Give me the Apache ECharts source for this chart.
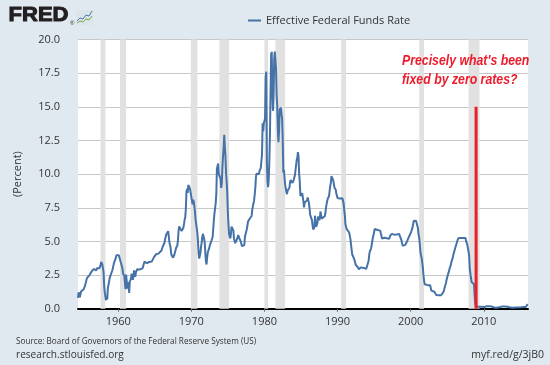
<!DOCTYPE html>
<html><head><meta charset="utf-8">
<script src="https://cdn.jsdelivr.net/npm/echarts@6/dist/echarts.min.js"></script>
<style>html,body{margin:0;padding:0;background:#e1e9f0;}#c{width:550px;height:365px;}</style>
</head><body><div id="c"></div>
<script>
// Monthly effective federal funds rate, starting July 1954
const startYear = 1954, startMonth = 7;
const rates = [
  0.80,1.22,1.06,0.85,0.83,1.28,
  1.39,1.29,1.35,1.43,1.43,1.64,1.68,1.96,2.18,2.24,2.35,2.48,
  2.45,2.50,2.50,2.62,2.75,2.71,2.75,2.73,2.95,2.96,2.88,2.94,
  2.84,3.00,2.96,3.00,3.00,3.00,2.99,3.24,3.47,3.50,3.28,2.98,
  2.72,1.67,1.20,1.26,0.63,0.93,0.68,1.53,1.76,1.80,2.27,2.42,
  2.48,2.43,2.80,2.96,2.90,3.39,3.47,3.50,3.76,3.98,4.00,3.99,
  3.99,3.97,3.84,3.92,3.85,3.32,3.23,2.98,2.60,2.47,2.44,1.98,
  1.45,2.54,2.02,1.49,1.98,1.73,1.17,2.00,1.88,2.26,2.61,2.33,
  2.15,2.37,2.85,2.78,2.36,2.68,2.71,2.93,2.90,2.90,2.94,2.93,
  2.92,3.00,2.98,2.90,3.00,2.99,3.02,3.49,3.48,3.50,3.48,3.38,
  3.48,3.48,3.43,3.47,3.50,3.50,3.42,3.50,3.45,3.36,3.52,3.85,
  3.90,3.98,4.04,4.09,4.10,4.04,4.09,4.12,4.01,4.08,4.10,4.32,
  4.42,4.60,4.65,4.67,4.90,5.17,5.30,5.53,5.40,5.53,5.76,5.40,
  4.94,5.00,4.53,4.05,3.94,3.98,3.79,3.90,3.99,3.88,4.13,4.51,
  4.61,4.71,5.05,5.76,6.11,6.07,6.02,6.03,5.78,5.91,5.82,6.02,
  6.30,6.61,6.79,7.41,8.67,8.90,8.61,9.19,9.15,9.00,8.85,8.97,
  8.98,8.98,7.76,8.10,7.95,7.61,7.21,6.61,6.29,6.20,5.60,4.90,
  4.14,3.72,3.71,4.16,4.63,4.91,5.31,5.56,5.55,5.20,4.91,4.14,
  3.50,3.29,3.83,4.17,4.27,4.46,4.55,4.80,4.87,5.04,5.06,5.33,
  5.94,6.58,7.09,7.12,7.84,8.49,10.40,10.50,10.78,10.01,10.03,9.95,
  9.65,8.97,9.35,10.51,11.31,11.93,12.92,12.01,11.34,10.06,9.45,8.53,
  7.13,6.24,5.54,5.49,5.22,5.55,6.10,6.14,6.24,5.82,5.22,5.20,
  4.87,4.77,4.84,4.82,5.29,5.48,5.31,5.29,5.25,5.02,4.95,4.65,
  4.61,4.68,4.69,4.73,5.35,5.39,5.42,5.90,6.14,6.47,6.51,6.56,
  6.70,6.78,6.79,6.89,7.36,7.60,7.81,8.04,8.45,8.96,9.76,10.03,
  10.07,10.06,10.09,10.01,10.24,10.29,10.47,10.94,11.43,13.77,13.18,13.78,
  13.82,14.13,17.19,17.61,10.98,9.47,9.03,9.61,10.87,12.81,15.85,18.90,
  19.08,15.93,14.70,15.72,18.52,19.10,19.04,17.82,15.87,15.08,13.31,12.37,
  13.22,14.78,14.68,14.94,14.45,14.15,12.59,10.12,10.31,9.71,9.20,8.95,
  8.68,8.51,8.77,8.80,8.63,8.98,9.37,9.56,9.45,9.48,9.34,9.47,
  9.56,9.59,9.91,10.29,10.32,11.06,11.23,11.64,11.30,9.99,9.43,8.38,
  8.35,8.50,8.58,8.27,7.97,7.53,7.88,7.90,7.92,7.99,8.05,8.27,
  8.14,7.86,7.48,6.99,6.85,6.92,6.56,6.17,5.89,5.85,6.04,6.91,
  6.43,6.10,6.13,6.37,6.85,6.73,6.58,6.73,7.22,7.29,6.69,6.77,
  6.83,6.58,6.58,6.87,7.09,7.51,7.75,8.01,8.19,8.30,8.35,8.76,
  9.12,9.36,9.85,9.84,9.81,9.53,9.24,8.99,9.02,8.84,8.55,8.45,
  8.23,8.24,8.28,8.26,8.18,8.29,8.15,8.13,8.20,8.11,7.81,7.31,
  6.91,6.25,6.12,5.91,5.78,5.90,5.82,5.66,5.45,5.21,4.81,4.43,
  4.03,4.06,3.98,3.73,3.82,3.76,3.25,3.30,3.22,3.10,3.09,2.92,
  3.02,3.03,3.07,2.96,3.00,3.04,3.06,3.03,3.09,2.99,3.02,2.96,
  3.05,3.25,3.34,3.56,4.01,4.25,4.26,4.47,4.73,4.76,5.29,5.45,
  5.53,5.92,5.98,6.05,6.01,6.00,5.85,5.74,5.80,5.76,5.80,5.60,
  5.56,5.22,5.31,5.22,5.24,5.27,5.40,5.22,5.30,5.24,5.31,5.29,
  5.25,5.19,5.39,5.51,5.50,5.56,5.52,5.54,5.54,5.50,5.52,5.50,
  5.56,5.51,5.49,5.45,5.49,5.56,5.54,5.55,5.51,5.07,4.83,4.68,
  4.63,4.76,4.81,4.74,4.74,4.76,4.99,5.07,5.22,5.20,5.42,5.30,
  5.45,5.73,5.85,6.02,6.27,6.53,6.54,6.50,6.52,6.51,6.51,6.40,
  5.98,5.49,5.31,4.80,4.21,3.97,3.77,3.65,3.07,2.49,2.09,1.82,
  1.73,1.74,1.73,1.75,1.75,1.75,1.73,1.74,1.75,1.75,1.34,1.24,
  1.24,1.26,1.25,1.26,1.26,1.22,1.01,1.03,1.01,1.01,1.00,0.98,
  1.00,1.01,1.00,1.00,1.00,1.03,1.26,1.43,1.61,1.76,1.93,2.16,
  2.28,2.50,2.63,2.79,3.00,3.04,3.26,3.50,3.62,3.78,4.00,4.16,
  4.29,4.49,4.59,4.79,4.94,4.99,5.24,5.25,5.25,5.25,5.25,5.24,
  5.25,5.26,5.26,5.25,5.25,5.25,5.26,5.02,4.94,4.76,4.49,4.24,
  3.94,2.98,2.61,2.28,1.98,2.00,2.01,2.00,1.81,0.97,0.39,0.16,
  0.15,0.22,0.18,0.15,0.18,0.21,0.16,0.16,0.15,0.12,0.12,0.12,
  0.11,0.13,0.16,0.20,0.20,0.18,0.18,0.19,0.19,0.19,0.19,0.18,
  0.17,0.16,0.14,0.10,0.09,0.09,0.07,0.10,0.08,0.07,0.08,0.07,
  0.08,0.10,0.13,0.14,0.16,0.16,0.16,0.13,0.14,0.16,0.16,0.16,
  0.14,0.15,0.14,0.15,0.11,0.09,0.09,0.08,0.08,0.09,0.08,0.09,
  0.07,0.07,0.08,0.09,0.09,0.10,0.09,0.09,0.09,0.09,0.09,0.12,
  0.11,0.11,0.11,0.12,0.12,0.13,0.13,0.14,0.14,0.12,0.12,0.24,
  0.34
];
// NBER recessions (decimal years: start, end)
const recessions = [
  [1957.583,1958.25],[1960.25,1961.083],[1969.917,1970.833],[1973.833,1975.167],
  [1980.0,1980.5],[1981.5,1982.833],[1990.5,1991.167],[2001.167,2001.833],[2007.917,2009.417]
];
const xTickYears = [1960,1970,1980,1990,2000,2010];
const redMarker = [[2008.95,0],[2008.95,15]];
const seriesName = 'Effective Federal Funds Rate';
const noteLines = ["Precisely what's been", "fixed by zero rates?"];

const lineData = rates.map((v,i)=>[startYear + (startMonth-1+i)/12, v]);
const font = "'Open Sans', sans-serif";

const chart = echarts.init(document.getElementById('c'), null, {renderer:'canvas'});
chart.setOption({
  animation:false,
  backgroundColor:'#e1e9f0',
  grid:{left:78,right:22,top:39.5,bottom:56.3,show:true,backgroundColor:'#ffffff',borderWidth:0},
  legend:{data:[seriesName],left:243,top:10,icon:'rect',itemWidth:13,itemHeight:2,
    textStyle:{fontFamily:font,fontSize:11,color:'#333'}},
  xAxis:{type:'value',min:1954.5,max:2016.05,
    axisLine:{show:true,lineStyle:{color:'#000',width:2}},
    axisTick:{show:true,customValues:xTickYears,length:3,lineStyle:{color:'#666'}},
    axisLabel:{customValues:xTickYears,formatter:v=>String(v),margin:8,fontFamily:font,fontSize:11,color:'#333'},
    splitLine:{show:false}},
  yAxis:{type:'value',min:0,max:20,interval:2.5,
    name:'(Percent)',nameLocation:'middle',nameGap:55,nameRotate:90,
    nameTextStyle:{fontFamily:font,fontSize:11,color:'#333'},
    axisLine:{show:false},axisTick:{show:false},
    axisLabel:{formatter:v=>v.toFixed(1),margin:18,fontFamily:font,fontSize:11,color:'#333'},
    splitLine:{lineStyle:{color:'#c8c8c8',width:1}}},
  series:[
    {type:'line',name:'recessions',data:[],z:1,silent:true,
      markArea:{silent:true,itemStyle:{color:'#e1e1e1'},
        data:recessions.map(r=>[{xAxis:r[0]},{xAxis:r[1]}])}},
    {type:'line',name:seriesName,data:lineData,showSymbol:false,z:3,
      lineStyle:{color:'#4572a7',width:2},itemStyle:{color:'#4572a7'}},
    {type:'line',name:'marker',data:redMarker,showSymbol:false,z:4,
      lineStyle:{color:'#e8202a',width:3}}
  ],
  graphic:[
    {type:'text',left:8,top:5,z:100,scaleX:1.1,style:{text:'FRED',font:"bold 20px 'Liberation Sans', Arial, sans-serif",fill:'#231f20',stroke:'#231f20',lineWidth:1}},
    {type:'text',left:70,top:20,z:100,style:{text:'®',font:"6px 'Liberation Sans', sans-serif",fill:'#231f20'}},
    {type:'rect',z:100,shape:{x:76,y:10,width:17,height:15},style:{fill:'#dbe5ea'}},
    {type:'polyline',z:101,shape:{points:[[77,21],[80,18],[83,19],[86,15],[89,16],[92,11]]},style:{stroke:'#4a7ab0',lineWidth:1,fill:null}},
    {type:'polyline',z:101,shape:{points:[[77,23],[80,21],[83,22],[86,19],[89,20],[92,16]]},style:{stroke:'#7aa84a',lineWidth:1,fill:null}},
    {type:'text',x:402,y:52,z:100,scaleX:0.82,style:{text:noteLines.join('\n'),lineHeight:18.5,
      font:"italic bold 15px 'Liberation Sans', sans-serif",fill:'#ec1c2c'}},
    {type:'text',left:16,top:338,z:100,style:{text:'Source: Board of Governors of the Federal Reserve System (US)',font:"8.2px 'Open Sans', sans-serif",fill:'#333'}},
    {type:'text',left:16,top:350,z:100,style:{text:'research.stlouisfed.org',font:"10.1px 'Open Sans', sans-serif",fill:'#333'}},
    {type:'text',right:6,top:350,z:100,style:{text:'myf.red/g/3jB0',font:"10.5px 'Open Sans', sans-serif",fill:'#333'}}
  ]
});
</script></body></html>
